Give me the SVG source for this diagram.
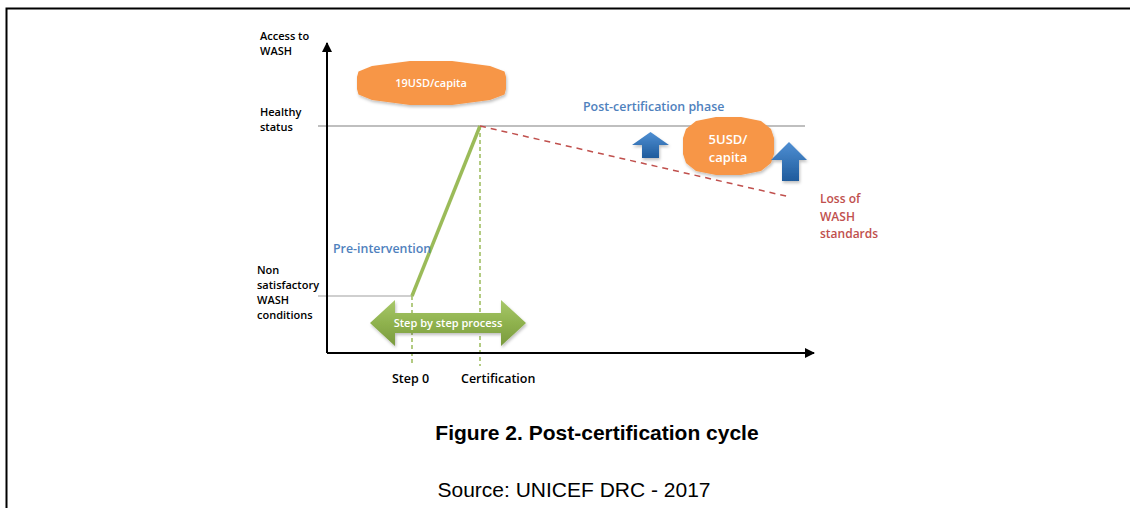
<svg xmlns="http://www.w3.org/2000/svg" width="1130" height="508" viewBox="0 0 1130 508">
<style>
.lbl{font-family:"Open Sans","Liberation Sans",sans-serif;font-weight:600;font-size:11px;fill:#000}
.lbl2{font-family:"Open Sans","Liberation Sans",sans-serif;font-weight:600;font-size:12.5px;fill:#000}
.blue{font-family:"Open Sans","Liberation Sans",sans-serif;font-weight:600;font-size:12.4px;fill:#4f81bd}
.red{font-family:"Open Sans","Liberation Sans",sans-serif;font-weight:600;font-size:12px;fill:#c0504d}
.wt{font-family:"Open Sans","Liberation Sans",sans-serif;font-weight:600;font-size:11px;fill:#fff;text-anchor:middle}
.cap{font-family:"Liberation Sans",Arial,sans-serif;text-anchor:middle;fill:#000}
.vdash{stroke:#9bbb59;stroke-width:1.5;stroke-dasharray:4 3;fill:none}
</style>
<defs>
<marker id="ah" viewBox="0 0 10 10" refX="9" refY="5" markerWidth="5" markerHeight="5" orient="auto" markerUnits="strokeWidth">
<path d="M0,0 L10,5 L0,10 z" fill="#000"/>
</marker>
<linearGradient id="gb" x1="0" y1="0" x2="0" y2="1">
<stop offset="0" stop-color="#4f8fd3"/>
<stop offset="1" stop-color="#1f5b9c"/>
</linearGradient>
<linearGradient id="gg" x1="0" y1="0" x2="0" y2="1">
<stop offset="0" stop-color="#a8c86a"/>
<stop offset="0.5" stop-color="#8fb24e"/>
<stop offset="1" stop-color="#7a9a3e"/>
</linearGradient>
<filter id="sh" x="-20%" y="-20%" width="140%" height="150%">
<feDropShadow dx="1" dy="2" stdDeviation="1.5" flood-color="#000" flood-opacity="0.25"/>
</filter>
</defs>

<g id="frame">
<path d="M6.5,508 L6.5,8.5 L1130,8.5" fill="none" stroke="#000" stroke-width="2"/>
</g>

<g id="connectors">
<line x1="318" y1="126" x2="805" y2="126" stroke="#bfbfbf" stroke-width="2"/>
<line x1="318" y1="296" x2="412" y2="296" stroke="#bfbfbf" stroke-width="1.5"/>
<line class="vdash" x1="412" y1="296" x2="412" y2="366"/>
<line class="vdash" x1="480" y1="126" x2="480" y2="366"/>
<line x1="327" y1="353" x2="327" y2="43" stroke="#000" stroke-width="2" marker-end="url(#ah)"/>
<line x1="327" y1="353" x2="814" y2="353" stroke="#000" stroke-width="2" marker-end="url(#ah)"/>
<line x1="412" y1="296" x2="480" y2="126" stroke="#9bbb59" stroke-width="3.5"/>
<line x1="480" y1="126" x2="790" y2="197" stroke="#c0504d" stroke-width="1.5" stroke-dasharray="6 5"/>
</g>

<g id="axis-labels">
<text class="lbl" x="260" y="40">Access to</text>
<text class="lbl" x="260" y="55">WASH</text>
<text class="lbl" x="260" y="116">Healthy</text>
<text class="lbl" x="260" y="131">status</text>
<text class="lbl" x="257" y="274">Non</text>
<text class="lbl" x="257" y="289">satisfactory</text>
<text class="lbl" x="257" y="304">WASH</text>
<text class="lbl" x="257" y="319">conditions</text>
<text class="lbl2" x="392" y="383">Step 0</text>
<text class="lbl2" x="461" y="383">Certification</text>
</g>

<g id="pre-intervention">
<text class="blue" x="333" y="253">Pre-intervention</text>
</g>

<g id="post-certification">
<text class="blue" x="583" y="111">Post-certification phase</text>
</g>

<g id="loss">
<text class="red" x="820" y="203">Loss of</text>
<text class="red" x="820" y="221">WASH</text>
<text class="red" x="820" y="238">standards</text>
</g>

<g id="cost-19">
<polygon filter="url(#sh)" fill="#f79646" points="506,77 504.5,71.5 490,66 452,61 410,61 372,66 358.5,71.5 357,77 357,89 358.5,94.5 372,100 410,105 452,105 490,100 504.5,94.5 506,89"/>
<text class="wt" x="431" y="87">19USD/capita</text>
</g>

<g id="cost-5">
<polygon filter="url(#sh)" fill="#f79646" points="774,138 771,129 761,121 741,117 716,117 696,121 686,129 683,138 683,154 686,163 696,171 716,175 741,175 761,171 771,163 774,154"/>
<text class="wt" x="728" y="144" style="font-size:13px">5USD/</text>
<text class="wt" x="728" y="162" style="font-size:13px">capita</text>
</g>

<g id="up-arrow-1">
<polygon filter="url(#sh)" fill="url(#gb)" points="650.5,132 669,145 659,145 659,158 642,158 642,145 632,145"/>
</g>

<g id="up-arrow-2">
<polygon filter="url(#sh)" fill="url(#gb)" points="789,142 807,160 799,160 799,181 782,181 782,160 771,160"/>
</g>

<g id="step-process">
<polygon filter="url(#sh)" fill="url(#gg)" points="370,323 395,300 395,313 501,313 501,300 526,323 501,346 501,333 395,333 395,346"/>
<text class="wt" x="448" y="327">Step by step process</text>
</g>

<g id="caption">
<text class="cap" x="597" y="440" style="font-size:21px;font-weight:bold">Figure 2. Post-certification cycle</text>
<text class="cap" x="574" y="497" style="font-size:21px">Source: UNICEF DRC - 2017</text>
</g>
</svg>
